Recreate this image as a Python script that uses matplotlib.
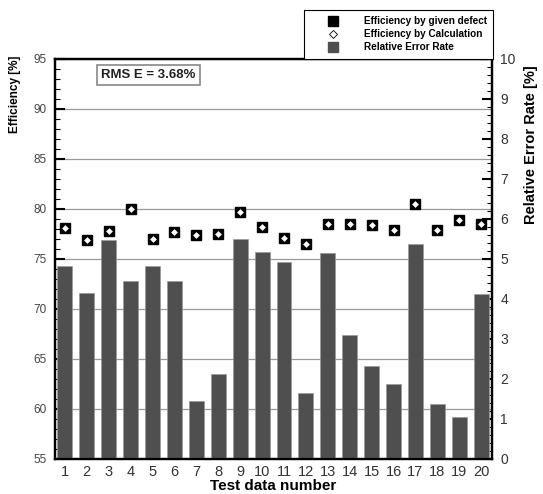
import matplotlib
matplotlib.use("Agg")
import matplotlib.pyplot as plt
from matplotlib.lines import Line2D
from matplotlib.ticker import MultipleLocator

plt.rcParams['font.family'] = ['Liberation Sans', 'DejaVu Sans']

test_no = list(range(1, 21))
eff_given = [78.1, 76.9, 77.8, 80.0, 77.0, 77.7, 77.4, 77.5, 79.7, 78.2,
             77.1, 76.5, 78.5, 78.5, 78.4, 77.9, 80.5, 77.9, 78.9, 78.5]
eff_calc = [78.1, 76.9, 77.8, 80.0, 77.0, 77.7, 77.4, 77.5, 79.7, 78.2,
            77.1, 76.5, 78.5, 78.5, 78.4, 77.9, 80.5, 77.9, 78.9, 78.5]
rel_err = [4.83, 4.16, 5.48, 4.44, 4.83, 4.46, 1.46, 2.13, 5.49, 5.18,
           4.92, 1.65, 5.16, 3.10, 2.33, 1.88, 5.38, 1.38, 1.06, 4.13]
rms_text = "RMS E = 3.68%"

fig = plt.figure(figsize=(5.43, 4.94), dpi=100)
ax = fig.add_axes([0.1013, 0.0709, 0.805, 0.8097])
ax.set_xlim(0.55, 20.5)
ax.set_ylim(55, 95)
ax.yaxis.set_major_locator(MultipleLocator(5))
ax.yaxis.set_minor_locator(MultipleLocator(1))
ax.set_xticks(test_no)
ax.grid(axis='y', which='major', color='#999999', linewidth=0.9, zorder=0)
ax.set_axisbelow(True)
ax.tick_params(axis='y', which='major', direction='in', length=7, width=1.5,
               labelsize=8.5, labelcolor='#444444', pad=6)
ax.tick_params(axis='y', which='minor', direction='in', length=3.5, width=0.8)
ax.tick_params(axis='x', length=0, labelsize=10.5, labelcolor='#333333', pad=4)
for sp in ax.spines.values():
    sp.set_linewidth(1.6)

ax2 = ax.twinx()
ax2.set_ylim(0, 10)
ax2.yaxis.set_major_locator(MultipleLocator(1))
ax2.yaxis.set_minor_locator(MultipleLocator(0.2))
ax2.tick_params(axis='y', which='major', direction='in', length=7, width=1.5,
                labelsize=10, labelcolor='#333333', pad=6)
ax2.tick_params(axis='y', which='minor', direction='in', length=3.5, width=0.8)
ax2.bar(test_no, rel_err, width=0.68, color='#4f4f4f', edgecolor='#9a9a9a',
        linewidth=0.5, zorder=2)
for sp in ax2.spines.values():
    sp.set_linewidth(1.6)

ax3 = ax.twinx()
ax3.set_ylim(55, 95)
ax3.set_xlim(0.55, 20.5)
ax3.axis('off')
ax3.plot(test_no, eff_given, 's', color='black', markersize=7.5, zorder=3)
ax3.plot(test_no, eff_calc, 'D', markerfacecolor='white', markeredgecolor='black',
         markeredgewidth=0.6, markersize=4.5, zorder=4)
ax3.text(0.214, 0.961, rms_text, transform=ax3.transAxes, ha='center', va='center',
         fontsize=9.5, fontweight='bold', color='#222222',
         bbox=dict(boxstyle='square,pad=0.3', facecolor='white', edgecolor='#888888',
                   linewidth=1.2))

ax.set_ylabel("Efficiency [%]", fontsize=8.5, fontweight='bold')
ax.yaxis.set_label_coords(-0.078, 0.9125)
ax2.set_ylabel("Relative Error Rate [%]", fontsize=10.5, fontweight='bold')
ax2.yaxis.set_label_coords(1.074, 0.785)
ax.set_xlabel("Test data number", fontsize=11, fontweight='bold', labelpad=0)

handles = [
    Line2D([], [], linestyle='none', marker='s', color='black', markersize=7),
    Line2D([], [], linestyle='none', marker='D', markerfacecolor='white',
           markeredgecolor='black', markeredgewidth=0.6, markersize=4.5),
    Line2D([], [], linestyle='none', marker='s', color='#4f4f4f', markersize=7),
]
labels = ["Efficiency by given defect", "Efficiency by Calculation", "Relative Error Rate"]
leg = fig.legend(handles, labels, loc='lower left',
                 bbox_to_anchor=(0.56, 0.8806, 0.348, 0.099), mode='expand',
                 fancybox=False, edgecolor='black', framealpha=1,
                 prop={'size': 7.2, 'weight': 'bold'}, labelspacing=0.3,
                 handlelength=4.5, handletextpad=0.85, borderpad=0.65,
                 borderaxespad=0)
leg.get_frame().set_linewidth(0.8)

fig.savefig("out.png", dpi=100)
